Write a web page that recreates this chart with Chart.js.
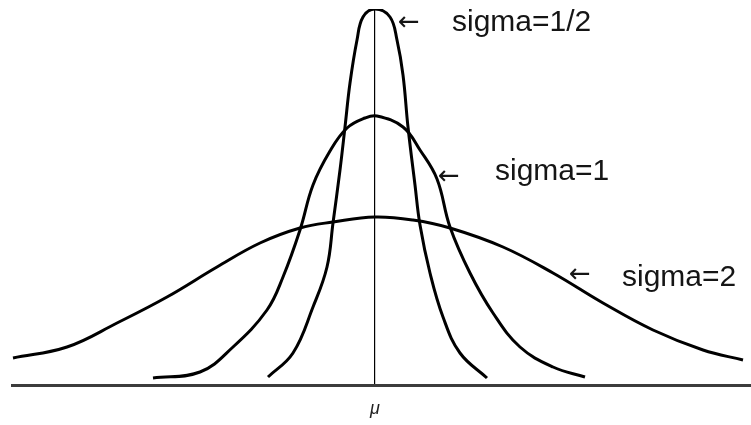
<!DOCTYPE html>
<html>
<head>
<meta charset="utf-8">
<script src="https://cdn.jsdelivr.net/npm/chart.js@4/dist/chart.umd.min.js"></script>
<style>
    html, body { margin: 0; padding: 0; background: #fff; }
    #wrap { width: 751px; height: 425px; position: relative; }
</style>
</head>
<body>
<div id="wrap"><canvas id="normalChart"></canvas></div>
<script>
// x = distance from mu, y = height of the curve
const halfX = [-1.07, -0.82, -0.62, -0.48, -0.42, -0.35, -0.30, -0.25, -0.18, -0.12, 0, 0.15, 0.22, 0.28, 0.33, 0.40, 0.45, 0.55, 0.68, 0.85, 1.12];
const halfY = [0.08, 0.32, 0.78, 1.18, 1.62, 2.15, 2.58, 3.02, 3.45, 3.68, 3.76, 3.68, 3.45, 3.10, 2.58, 2.00, 1.60, 1.12, 0.68, 0.32, 0.07];

const oneX = [-2.22, -1.75, -1.42, -1.08, -0.92, -0.75, -0.62, -0.45, -0.28, -0.1, 0.02, 0.28, 0.45, 0.62, 0.75, 0.95, 1.18, 1.45, 1.78, 2.1];
const oneY = [0.07, 0.13, 0.38, 0.75, 1.08, 1.55, 2.0, 2.34, 2.57, 2.67, 2.69, 2.58, 2.35, 2.06, 1.58, 1.12, 0.72, 0.38, 0.18, 0.08];

const twoX = [-3.62, -3.08, -2.58, -2.08, -1.58, -1.15, -0.75, -0.42, 0, 0.38, 0.75, 1.28, 1.78, 2.28, 2.78, 3.28, 3.68];
const twoY = [0.27, 0.38, 0.62, 0.88, 1.18, 1.42, 1.57, 1.63, 1.68, 1.65, 1.57, 1.38, 1.12, 0.82, 0.55, 0.35, 0.25];

const curveLabels = ['sigma=1/2', 'sigma=1', 'sigma=2'];
const muLabel = 'μ';

// where each "←  sigma=..." note sits, in chart units
const notePlaces = [
    { arrowX: 0.23, arrowY: 3.62, textX: 0.77, textY: 3.54 },
    { arrowX: 0.63, arrowY: 2.08, textX: 1.20, textY: 2.05 },
    { arrowX: 1.94, arrowY: 1.10, textX: 2.47, textY: 0.99 }
];

const toPoints = (xs, ys) => xs.map((x, i) => ({ x, y: ys[i] }));

const curve = (label, xs, ys) => ({
    label,
    data: toPoints(xs, ys),
    borderColor: '#000',
    borderWidth: 3,
    pointRadius: 0,
    fill: false,
    tension: 0.4
});

const sigmaNotes = {
    id: 'sigmaNotes',
    afterDatasetsDraw(chart) {
        const { ctx, scales: { x, y } } = chart;
        ctx.save();
        ctx.fillStyle = '#151515';
        ctx.textAlign = 'left';
        curveLabels.forEach((text, i) => {
            const p = notePlaces[i];
            ctx.font = '26px "DejaVu Sans"';
            ctx.textBaseline = 'middle';
            ctx.fillText('←', x.getPixelForValue(p.arrowX), y.getPixelForValue(p.arrowY));
            ctx.font = '30px "Liberation Sans", Arial, sans-serif';
            ctx.textBaseline = 'alphabetic';
            ctx.fillText(text, x.getPixelForValue(p.textX), y.getPixelForValue(p.textY));
        });
        ctx.restore();
    }
};

new Chart(document.getElementById('normalChart'), {
    type: 'line',
    data: {
        datasets: [
            curve(curveLabels[0], halfX, halfY),
            curve(curveLabels[1], oneX, oneY),
            curve(curveLabels[2], twoX, twoY)
        ]
    },
    options: {
        responsive: true,
        maintainAspectRatio: false,
        animation: false,
        layout: { padding: { top: 9, left: 12, right: 0, bottom: 0 } },
        scales: {
            x: {
                type: 'linear',
                min: -3.63,
                max: 3.76,
                afterBuildTicks: (scale) => { scale.ticks = [{ value: 0 }]; },
                afterFit: (scale) => { scale.height = 40; },
                ticks: {
                    callback: () => muLabel,
                    color: '#222',
                    font: { family: '"Liberation Sans", Arial, sans-serif', size: 18, style: 'italic' },
                    padding: 13,
                    maxRotation: 0,
                    autoSkip: false
                },
                grid: { color: '#000', lineWidth: 1.2, drawTicks: false },
                border: { display: true, color: '#3c3c3c', width: 3 }
            },
            y: {
                display: false,
                min: 0,
                max: 3.76
            }
        },
        plugins: {
            legend: { display: false },
            tooltip: { enabled: false }
        }
    },
    plugins: [sigmaNotes]
});
</script>
</body>
</html>
